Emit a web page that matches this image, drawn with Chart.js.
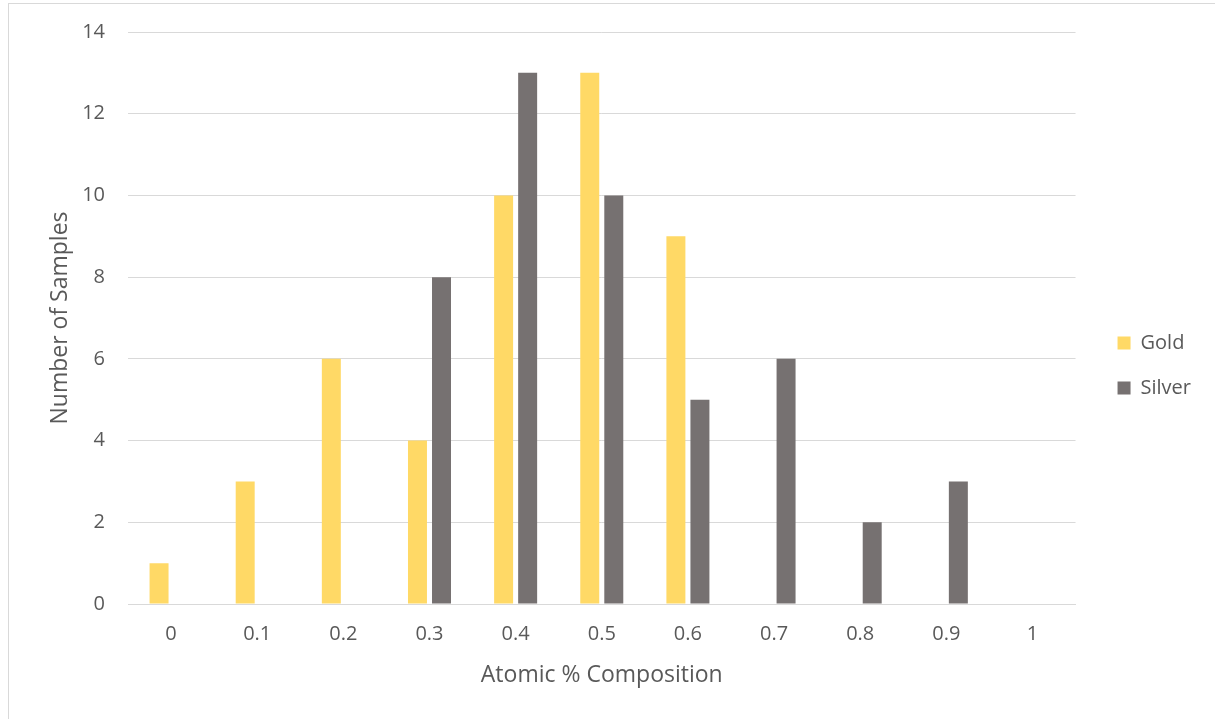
<!DOCTYPE html>
<html>
<head>
<meta charset="utf-8">
<script src="https://cdn.jsdelivr.net/npm/chart.js@4/dist/chart.umd.min.js"></script>
<style>
  html, body { margin: 0; padding: 0; background: #ffffff; overflow: hidden; }
  #frame { position: absolute; left: 8px; top: 3px; width: 1400px; height: 900px; border: 1px solid #d9d9d9; box-sizing: border-box; }
  #wrap { position: absolute; left: 0; top: 0; width: 1215px; height: 719px; }
</style>
</head>
<body>
<div id="frame"></div>
<div id="wrap"><canvas id="chart" width="1215" height="719"></canvas></div>
<script>
// Composition bins (atomic fraction) and sample counts per metal
const compositionBins = ['0', '0.1', '0.2', '0.3', '0.4', '0.5', '0.6', '0.7', '0.8', '0.9', '1'];
const goldCounts   = [1, 3, 6, 4, 10, 13, 9, 0, 0, 0, 0];
const silverCounts = [0, 0, 0, 8, 13, 10, 5, 6, 2, 3, 0];
const yTicks = [0, 2, 4, 6, 8, 10, 12, 14];

const textColor = '#595959';
const gridColor = '#d9d9d9';
const fontFamily = "'Open Sans', sans-serif";

// vertical scales: no extra label overhang padding, the layout padding decides the top edge
function fixedWidth(w) {
  return function (scale) {
    scale.width = w;
    scale.paddingTop = 0;
    scale.paddingBottom = 0;
  };
}

new Chart(document.getElementById('chart'), {
  type: 'bar',
  data: {
    labels: compositionBins,
    datasets: [
      { label: 'Gold', data: goldCounts, backgroundColor: '#ffd966', borderWidth: 0,
        categoryPercentage: 0.558, barPercentage: 0.79 },
      { label: 'Silver', data: silverCounts, backgroundColor: '#767171', borderWidth: 0,
        categoryPercentage: 0.558, barPercentage: 0.79 }
    ]
  },
  options: {
    responsive: false,
    animation: false,
    layout: { padding: { left: 40, right: 14, top: 32, bottom: 20 } },
    plugins: {
      tooltip: { enabled: false },
      legend: {
        position: 'right',
        labels: {
          boxWidth: 13, boxHeight: 13, padding: 25,
          color: textColor,
          font: { family: fontFamily, size: 20 }
        }
      }
    },
    scales: {
      x: {
        grid: { display: false, drawTicks: false },
        border: { display: true, color: gridColor, width: 1 },
        ticks: { color: textColor, font: { family: fontFamily, size: 20 }, padding: 18, maxRotation: 0 },
        title: { display: true, text: 'Atomic % Composition', color: textColor,
                 font: { family: fontFamily, size: 23, lineHeight: 1 }, padding: { top: 0, bottom: 12 } },
        afterFit(scale) { scale.height = 95; }
      },
      y: {
        min: 0, max: 14,
        afterBuildTicks(scale) { scale.ticks = yTicks.map(v => ({ value: v })); },
        grid: { color: gridColor, lineWidth: 1, drawTicks: false },
        border: { display: false },
        ticks: { color: textColor, font: { family: fontFamily, size: 20 }, padding: 23 },
        title: { display: true, text: 'Number of Samples', color: textColor,
                 font: { family: fontFamily, size: 23, lineHeight: 1 }, padding: { top: 8.5, bottom: 0 } },
        afterFit: fixedWidth(88)
      },
      gap: {
        position: 'right', display: true,
        grid: { display: false, drawTicks: false },
        border: { display: false },
        ticks: { display: false },
        afterFit: fixedWidth(17)
      }
    }
  }
});
</script>
</body>
</html>
